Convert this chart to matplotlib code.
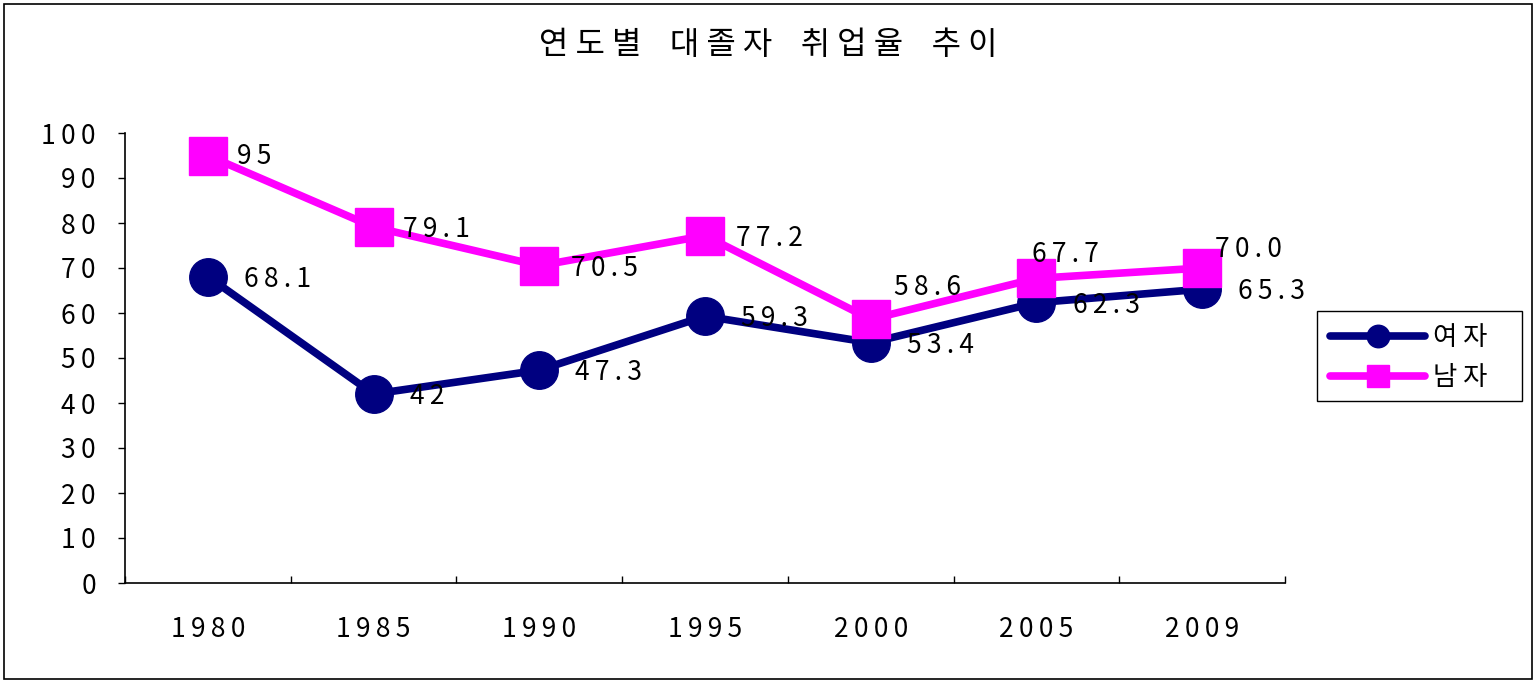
import matplotlib
matplotlib.use("Agg")
import matplotlib.pyplot as plt
from matplotlib.patches import Rectangle

plt.rcParams['font.family'] = ['Noto Sans CJK KR', 'DejaVu Sans']

years = ['1980', '1985', '1990', '1995', '2000', '2005', '2009']
female = [68.1, 42, 47.3, 59.3, 53.4, 62.3, 65.3]
male = [95, 79.1, 70.5, 77.2, 58.6, 67.7, 70.0]
female_labels = ['68.1', '42', '47.3', '59.3', '53.4', '62.3', '65.3']
male_labels = ['95', '79.1', '70.5', '77.2', '58.6', '67.7', '70.0']


def spaced(s, sep='\u2009'):
    # mimic the wide letter spacing of the original
    return sep.join(s)


W, H = 1537, 683
fig = plt.figure(figsize=(W / 100, H / 100), dpi=100)
ax = fig.add_axes([125 / W, 100 / H, 1160 / W, 450 / H])

x = list(range(len(years)))
ax.plot(x, female, color='#000080', lw=5.5, marker='o', ms=27,
        label='여 자', solid_capstyle='round')
ax.plot(x, male, color='#FF00FF', lw=5.5, marker='s', ms=27,
        label='남 자', solid_capstyle='round')

# data labels (offsets in points)
f_off = [(26, -2)] * 7
m_off = [(21, -1), (21, -2), (23, -2), (22, -2), (17, 23), (-3, 17), (9, 13)]
for i in x:
    ax.annotate(spaced(female_labels[i]), (i, female[i]), xytext=f_off[i],
                textcoords='offset points', ha='left', va='center', fontsize=19)
    ax.annotate(spaced(male_labels[i]), (i, male[i]), xytext=m_off[i],
                textcoords='offset points', ha='left', va='center', fontsize=19)

ax.set_xlim(-0.5, len(years) - 0.5)
ax.set_ylim(0, 100)
ax.set_yticks(range(0, 101, 10))
ax.set_yticklabels([spaced(str(v)) for v in range(0, 101, 10)], fontsize=19)
ax.set_xticks(x)
ax.set_xticklabels([spaced(y) for y in years], fontsize=19)
ax.set_xticks([i + 0.5 for i in range(-1, len(years))], minor=True)
ax.tick_params(axis='x', which='major', length=0, pad=24)
ax.tick_params(axis='x', which='minor', direction='in', length=5, width=1)
ax.tick_params(axis='y', direction='out', length=5, width=1, pad=16)

for s in ['top', 'right']:
    ax.spines[s].set_visible(False)
for s in ['left', 'bottom']:
    ax.spines[s].set_linewidth(1.2)

title_words = ['연도별', '대졸자', '취업율', '추이']
fig.text(0.5, 1 - 45 / H, '    '.join(spaced(w, ' ') for w in title_words),
         ha='center', va='center', fontsize=23)

# legend entries from the library, box drawn separately (wider than content)
leg = fig.legend(loc='upper left', bbox_to_anchor=(1317 / W, 1 - 311 / H),
                 fontsize=19, handlelength=3.6, markerscale=0.6,
                 frameon=False, borderpad=0.5, labelspacing=0.5,
                 handletextpad=0.3, borderaxespad=0)
fig.patches.append(Rectangle((1317 / W, 282 / H), 205 / W, 90 / H,
                             transform=fig.transFigure, fill=False,
                             edgecolor='black', lw=1.0))

# outer chart border
fig.patches.append(Rectangle((4 / W, 4 / H), 1528 / W, 675 / H,
                             transform=fig.transFigure, fill=False,
                             edgecolor='black', lw=1.2))

fig.savefig('out.png', dpi=100)
